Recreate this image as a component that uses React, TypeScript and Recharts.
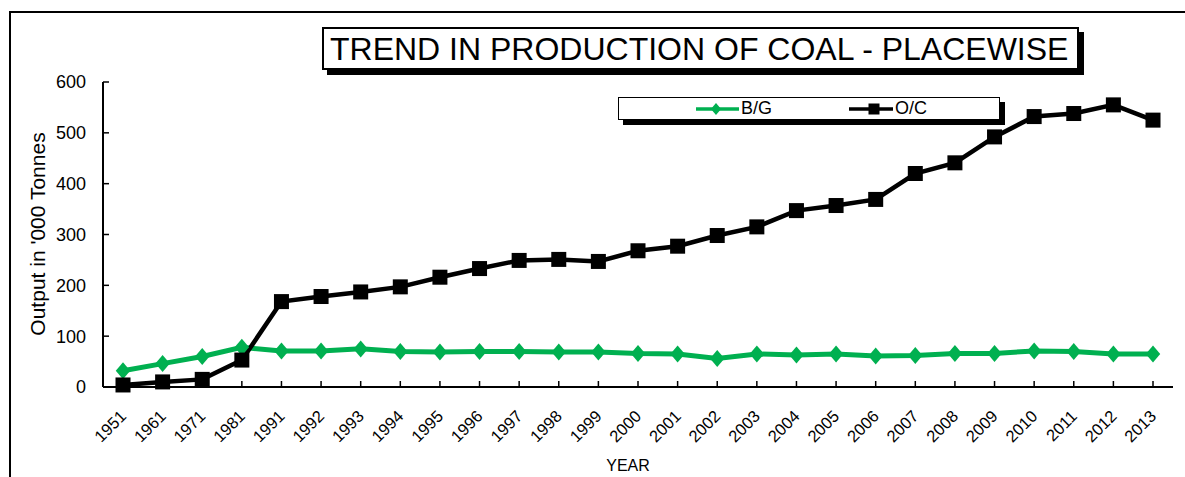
import { LineChart, Line, XAxis, YAxis, Legend } from "recharts";

// production by place, '000 tonnes
const years = [
  "1951", "1961", "1971", "1981", "1991", "1992", "1993", "1994", "1995",
  "1996", "1997", "1998", "1999", "2000", "2001", "2002", "2003", "2004",
  "2005", "2006", "2007", "2008", "2009", "2010", "2011", "2012", "2013",
];
const bgOutput = [
  32, 46, 60, 78, 71, 71, 75, 70, 69, 70, 70, 69, 69, 66, 65, 56, 65, 63,
  65, 61, 62, 66, 66, 71, 70, 65, 65,
];
const ocOutput = [
  4, 10, 15, 53, 168, 178, 187, 197, 216, 233, 249, 251, 247, 268, 277, 298,
  315, 347, 357, 369, 420, 441, 492, 532, 538, 555, 525,
];
const yTicks = [0, 100, 200, 300, 400, 500, 600];

const rows = years.map((year, i) => ({
  year,
  bg: bgOutput[i],
  oc: ocOutput[i],
}));

const FONT = '"Liberation Sans", Arial, sans-serif';
const GREEN = "#00B050";
const PLOT_LEFT = 103;
const PLOT_BOTTOM = 387;

function YTick({ y, payload }: any) {
  return (
    <g>
      <line x1={PLOT_LEFT} x2={PLOT_LEFT + 6} y1={y} y2={y} stroke="#000" strokeWidth={1.5} />
      <text x={86} y={y} dy="0.36em" textAnchor="end" fontSize={18} fontFamily={FONT} fill="#000">
        {payload.value}
      </text>
    </g>
  );
}

function YearTick({ x, payload }: any) {
  const ax = x - 4;
  const ay = PLOT_BOTTOM + 22;
  return (
    <g>
      <line x1={x} x2={x} y1={PLOT_BOTTOM} y2={PLOT_BOTTOM - 6} stroke="#000" strokeWidth={1.5} />
      <text
        x={ax}
        y={ay}
        dy="0.71em"
        textAnchor="end"
        transform={`rotate(-45 ${ax} ${ay})`}
        fontSize={16.5}
        fontFamily={FONT}
        fill="#000"
      >
        {payload.value}
      </text>
    </g>
  );
}

function diamond(cx: number, cy: number, r: number) {
  return `${cx},${cy - r} ${cx + r * 0.85},${cy} ${cx},${cy + r} ${cx - r * 0.85},${cy}`;
}

const renderDiamond = (p: any) => (
  <polygon key={`bg-${p.index}`} points={diamond(p.cx, p.cy, 8.5)} fill={GREEN} />
);

const renderSquare = (p: any) => (
  <rect key={`oc-${p.index}`} x={p.cx - 7.5} y={p.cy - 7.5} width={15} height={15} fill="#000" />
);

function LegendBox({ payload }: any) {
  const lefts = [77, 230];
  return (
    <div
      style={{
        position: "relative",
        width: 380,
        height: 21,
        border: "1.5px solid #000",
        boxShadow: "5px 5px 0 #000",
        background: "#fff",
        fontFamily: FONT,
        fontSize: 18,
      }}
    >
      {(payload || []).map((item: any, i: number) => {
        const isBg = item.dataKey === "bg";
        const w = isBg ? 45 : 46;
        const mid = isBg ? 20 : 25;
        return (
          <div
            key={item.value}
            style={{ position: "absolute", left: lefts[i], top: 0, height: 21, display: "flex", alignItems: "center" }}
          >
            <svg width={w} height={14}>
              <line x1={0} x2={w - 2} y1={7} y2={7} stroke={item.color} strokeWidth={3.5} />
              {isBg ? (
                <polygon points={diamond(mid, 7, 6)} fill={GREEN} />
              ) : (
                <rect x={mid - 5.5} y={1.5} width={11} height={11} fill="#000" />
              )}
            </svg>
            <span style={{ lineHeight: "21px" }}>{item.value}</span>
          </div>
        );
      })}
    </div>
  );
}

export default function App() {
  return (
    <div
      style={{
        position: "absolute",
        left: 0,
        top: 0,
        width: 1185,
        height: 477,
        overflow: "hidden",
        background: "#fff",
      }}
    >
      <div
        style={{
          position: "absolute",
          left: 9,
          top: 11,
          width: 1300,
          height: 600,
          border: "2px solid #000",
        }}
      />
      <div
        style={{
          position: "absolute",
          left: 322,
          top: 27,
          width: 747,
          height: 39,
          border: "2px solid #000",
          boxShadow: "5px 5px 0 #000",
          background: "#fff",
          fontFamily: FONT,
          fontSize: 32,
          lineHeight: "40px",
          paddingLeft: 6,
          boxSizing: "content-box",
          whiteSpace: "nowrap",
          zIndex: 2,
        }}
      >
        TREND IN PRODUCTION OF COAL - PLACEWISE
      </div>
      <div style={{ position: "absolute", left: 0, top: 0 }}>
        <LineChart
          width={1185}
          height={477}
          data={rows}
          margin={{ top: 82, right: 12, bottom: 30, left: 43 }}
        >
          <XAxis
            dataKey="year"
            height={60}
            padding={{ left: 20, right: 20 }}
            axisLine={{ stroke: "#000", strokeWidth: 2 }}
            tickLine={false}
            tick={<YearTick />}
            interval={0}
            label={{
              content: () => (
                <text x={628} y={471} textAnchor="middle" fontSize={16} fontFamily={FONT} fill="#000">
                  YEAR
                </text>
              ),
            }}
          />
          <XAxis
            xAxisId="frame"
            dataKey="year"
            orientation="top"
            height={0}
            tick={false}
            tickLine={false}
            axisLine={{ stroke: "#000", strokeWidth: 1.5 }}
          />
          <YAxis
            width={60}
            domain={[0, 600]}
            ticks={yTicks}
            interval={0}
            axisLine={{ stroke: "#000", strokeWidth: 2 }}
            tickLine={false}
            tick={<YTick />}
            label={{
              content: () => (
                <text
                  x={37}
                  y={234}
                  textAnchor="middle"
                  dominantBaseline="central"
                  transform="rotate(-90 37 234)"
                  fontSize={21}
                  fontFamily={FONT}
                  fill="#000"
                >
                  Output in '000 Tonnes
                </text>
              ),
            }}
          />
          <YAxis
            yAxisId="frame"
            orientation="right"
            width={0}
            domain={[0, 600]}
            tick={false}
            tickLine={false}
            axisLine={{ stroke: "#000", strokeWidth: 1.5 }}
          />
          <Legend
            layout="horizontal"
            verticalAlign="middle"
            align="center"
            wrapperStyle={{ left: 618, top: 97, width: "auto", height: "auto" }}
            content={<LegendBox />}
          />
          <Line
            dataKey="bg"
            name="B/G"
            stroke={GREEN}
            strokeWidth={5}
            dot={renderDiamond}
            activeDot={false}
            isAnimationActive={false}
          />
          <Line
            dataKey="oc"
            name="O/C"
            stroke="#000"
            strokeWidth={4.5}
            dot={renderSquare}
            activeDot={false}
            isAnimationActive={false}
          />
        </LineChart>
      </div>
    </div>
  );
}
